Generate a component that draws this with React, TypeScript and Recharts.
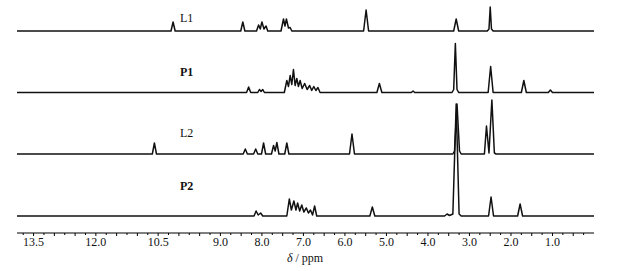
import React from 'react';
import { LineChart, Line, XAxis, YAxis, Customized } from 'recharts';

// spectra as [ppm, intensity] points (intensity in arbitrary units)
const l1Points: [number, number][] = [
  [13.9, 0],
  [10.19, 0], [10.14, 9], [10.09, 0],
  [8.51, 0], [8.46, 9], [8.41, 0],
  [8.13, 0], [8.08, 6], [8.04, 2], [8.0, 9], [7.95, 2], [7.9, 5], [7.86, 0],
  [7.54, 0], [7.48, 12], [7.445, 5], [7.41, 12], [7.36, 3], [7.32, 3.5], [7.28, 0],
  [5.55, 0], [5.49, 21], [5.43, 0],
  [3.38, 0], [3.32, 12], [3.26, 0],
  [2.57, 0], [2.53, 2], [2.5, 24], [2.47, 2], [2.43, 0],
  [0, 0],
];

const p1Points: [number, number][] = [
  [13.9, 0],
  [8.37, 0], [8.32, 5.5], [8.27, 0],
  [8.1, 0], [8.06, 3], [8.02, 1], [7.98, 3], [7.94, 0],
  [7.46, 0], [7.4, 12], [7.36, 6], [7.32, 17], [7.28, 8], [7.24, 23], [7.2, 7], [7.16, 14],
  [7.12, 6], [7.08, 12], [7.03, 4], [6.97, 9], [6.91, 3], [6.85, 7], [6.8, 2], [6.75, 6],
  [6.7, 2], [6.65, 5], [6.6, 0],
  [5.23, 0], [5.17, 9], [5.11, 0],
  [4.4, 0], [4.36, 1.5], [4.32, 0],
  [3.42, 0], [3.38, 3], [3.34, 49], [3.3, 3], [3.26, 0],
  [2.55, 0], [2.49, 26], [2.43, 0],
  [1.75, 0], [1.69, 12], [1.63, 0],
  [1.1, 0], [1.05, 2.5], [1.0, 0],
  [0, 0],
];

const l2Points: [number, number][] = [
  [13.9, 0],
  [10.64, 0], [10.59, 11], [10.54, 0],
  [8.45, 0], [8.4, 5], [8.35, 0],
  [8.2, 0], [8.15, 5], [8.1, 0],
  [8.01, 0], [7.96, 11], [7.91, 0],
  [7.77, 0], [7.72, 8.5], [7.68, 3], [7.64, 11.5], [7.59, 0],
  [7.45, 0], [7.4, 11], [7.35, 0],
  [5.89, 0], [5.83, 20], [5.77, 0],
  [3.4, 0], [3.36, 3], [3.3, 50], [3.24, 3], [3.2, 0],
  [2.64, 0], [2.59, 28], [2.53, 1], [2.46, 54], [2.4, 1], [2.36, 0],
  [0, 0],
];

const p2Points: [number, number][] = [
  [13.9, 0],
  [8.19, 0], [8.14, 5], [8.09, 1], [8.03, 3], [7.98, 0],
  [7.4, 0], [7.34, 17], [7.29, 6], [7.23, 15], [7.18, 6], [7.14, 13], [7.09, 5], [7.04, 11],
  [6.99, 4], [6.93, 8], [6.88, 3], [6.83, 6], [6.78, 1], [6.73, 10], [6.68, 0],
  [5.4, 0], [5.34, 9], [5.28, 0],
  [3.6, 0], [3.54, 2], [3.48, 0.5], [3.4, 2], [3.32, 112], [3.25, 2], [3.2, 0],
  [2.54, 0], [2.48, 19], [2.42, 0],
  [1.84, 0], [1.78, 12], [1.72, 0],
  [0, 0],
];

const tickLabels = [13.5, 12.0, 10.5, 9.0, 8.0, 7.0, 6.0, 5.0, 4.0, 3.0, 2.0, 1.0];
const spectrumNames = ['L1', 'P1', 'L2', 'P2'];

const toRows = (pts: [number, number][]) => pts.map(([ppm, i]) => ({ ppm, i }));

const W = 617;
const H = 271;
const AXIS_Y = 233;
// baseline (px from top) of each trace
const baselines = [31, 92.5, 154, 216];
const FONT = '"Liberation Serif", "Times New Roman", serif';

const minorTicks: number[] = [];
for (let v = 0.25; v < 13.9; v += 0.25) minorTicks.push(v);

function PpmTick(props: any) {
  const { x, y, payload } = props;
  const v: number = payload.value;
  const major = Math.abs(v * 2 - Math.round(v * 2)) < 1e-6;
  const labelled = tickLabels.some((t) => Math.abs(t - v) < 1e-6);
  return (
    <g>
      <line x1={x} x2={x} y1={y} y2={y + (major ? 3 : 2)} stroke="#000" strokeWidth={1} />
      {labelled && (
        <text x={x} y={y + 13} textAnchor="middle" fontFamily={FONT} fontSize={12} fill="#111">
          {v.toFixed(1)}
        </text>
      )}
    </g>
  );
}

function Annotations() {
  const labelY = [22, 76, 137, 190];
  return (
    <g fontFamily={FONT} fontSize={12} fill="#111">
      {spectrumNames.map((n, k) => (
        <text key={n} x={180} y={labelY[k]} fontWeight={n.startsWith('P') ? 'bold' : 'normal'}>
          {n}
        </text>
      ))}
      <text x={305} y={262} textAnchor="middle">
        <tspan fontStyle="italic">δ</tspan> / ppm
      </text>
    </g>
  );
}

export default function App() {
  const series = [l1Points, p1Points, l2Points, p2Points];
  return (
    <div style={{ position: 'absolute', left: 0, top: 0, width: W, height: H, background: '#fff' }}>
      <LineChart width={W} height={H} margin={{ top: 0, right: 23, bottom: 0, left: 17 }}>
        <XAxis
          dataKey="ppm"
          type="number"
          domain={[0, 13.9]}
          reversed
          allowDataOverflow
          ticks={minorTicks}
          interval={0}
          tick={<PpmTick />}
          tickLine={false}
          tickSize={0}
          tickMargin={0}
          axisLine={{ stroke: '#000', strokeWidth: 1 }}
          height={H - AXIS_Y}
        />
        {baselines.map((b, k) => (
          <YAxis key={k} yAxisId={k} hide type="number" domain={[b - AXIS_Y, b]} allowDataOverflow />
        ))}
        {series.map((pts, k) => (
          <Line
            key={spectrumNames[k]}
            yAxisId={k}
            data={toRows(pts)}
            dataKey="i"
            type="linear"
            dot={false}
            stroke="#111"
            strokeWidth={1.5}
            strokeLinejoin="round"
            isAnimationActive={false}
          />
        ))}
        <Customized component={Annotations} />
      </LineChart>
    </div>
  );
}
